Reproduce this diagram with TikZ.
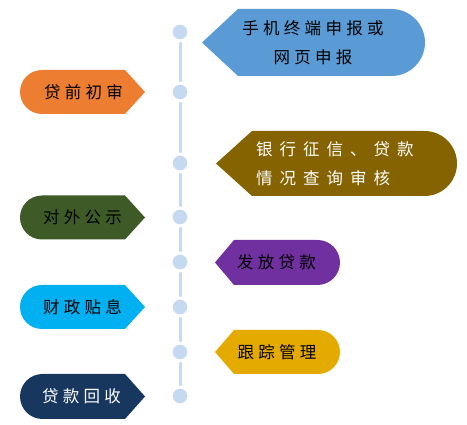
\documentclass[tikz,border=0pt]{standalone}
\usepackage{fontspec}
\newfontfamily\cjk{Noto Sans CJK SC}
\newcommand\ls{\hspace{4.3pt}}
\newcommand\lw{\hspace{7pt}}
\definecolor{cblue}{HTML}{5B9BD5}
\definecolor{cbrown}{HTML}{846300}
\definecolor{cpurple}{HTML}{7030A0}
\definecolor{cgold}{HTML}{E5AA00}
\definecolor{corange}{HTML}{ED7D31}
\definecolor{cgreen}{HTML}{3E5B27}
\definecolor{ccyan}{HTML}{00B0F0}
\definecolor{cnavy}{HTML}{17375E}
\definecolor{cline}{HTML}{C5D9F1}
\tikzset{
  txt/.style={font=\cjk\fontsize{16.5}{29}\selectfont, align=center, inner sep=0pt},
  dot/.style={circle, fill=cline, draw=white, line width=3pt, minimum size=18pt, inner sep=0pt},
  spine/.style={draw=cline, line width=3pt}
}
\begin{document}
\begin{tikzpicture}[x=1pt,y=1pt]
\useasboundingbox (0,0) rectangle (467,425);
% spine
\coordinate (d1) at (180,393);
\coordinate (d8) at (180,29);
\draw[spine] (d1) -- (d8);
\node[dot] (p1) at (180,393) {};
\node[dot] (p2) at (180,333) {};
\node[dot] (p3) at (180,262) {};
\node[dot] (p4) at (180,208) {};
\node[dot] (p5) at (180,163) {};
\node[dot] (p6) at (180,118) {};
\node[dot] (p7) at (180,73) {};
\node[dot] (p8) at (180,29) {};
% right shapes
\fill[cblue] (202,382.5) -- (238,416) -- (391.5,416) arc[start angle=90,end angle=-90,radius=33.5pt] -- (238,349) -- cycle;
\node[txt] (t1) at (313,382.5) {手\ls 机\ls 终\ls 端\ls 申\ls 报\ls 或\\网\ls 页\ls 申\ls 报};
\fill[cbrown] (216,261.5) -- (252,294) -- (424.5,294) arc[start angle=90,end angle=-90,radius=32.5pt] -- (252,229) -- cycle;
\node[txt,text=white,align=left,anchor=west] (t3) at (256,261.5) {银\lw 行\lw 征\lw 信\lw 、\lw 贷\lw 款\\情\lw 况\lw 查\lw 询\lw 审\lw 核};
\fill[cpurple] (215,162.5) -- (234,185) -- (317.5,185) arc[start angle=90,end angle=-90,radius=22.5pt] -- (234,140) -- cycle;
\node[txt] (t5) at (276.5,162.5) {发\ls 放\ls 贷\ls 款};
\fill[cgold] (215,73) -- (234,95) -- (318,95) arc[start angle=90,end angle=-90,radius=22pt] -- (234,51) -- cycle;
\node[txt] (t7) at (277,73) {跟\ls 踪\ls 管\ls 理};
% left shapes
\fill[corange] (145,333) -- (125,355) -- (42,355) arc[start angle=90,end angle=270,radius=22pt] -- (125,311) -- cycle;
\node[txt] (t2) at (83.5,333) {贷\ls 前\ls 初\ls 审};
\fill[cgreen] (145,207.5) -- (125,229.5) -- (42,229.5) arc[start angle=90,end angle=270,radius=22pt] -- (125,185.5) -- cycle;
\node[txt] (t4) at (82.5,207.5) {对\ls 外\ls 公\ls 示};
\fill[ccyan] (145,118) -- (125,140) -- (42,140) arc[start angle=90,end angle=270,radius=22pt] -- (125,96) -- cycle;
\node[txt] (t6) at (82.5,118) {财\ls 政\ls 贴\ls 息};
\fill[cnavy] (145,28.5) -- (125,51) -- (42.5,51) arc[start angle=90,end angle=270,radius=22.5pt] -- (125,6) -- cycle;
\node[txt,text=white] (t8) at (81.5,28.5) {贷\ls 款\ls 回\ls 收};
\end{tikzpicture}
\end{document}
